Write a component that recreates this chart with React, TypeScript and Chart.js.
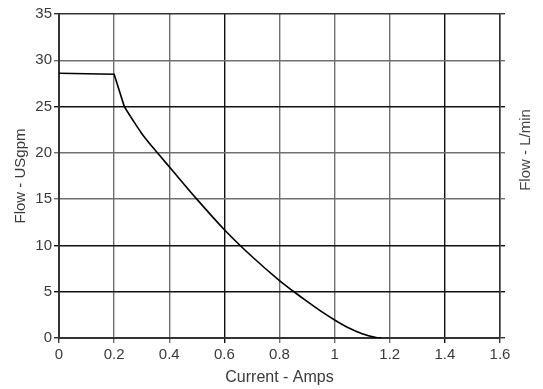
import React, { useEffect, useRef } from "react";
import { Chart, registerables } from "chart.js";

Chart.register(...registerables);

// Flat section and initial drop (straight segments)
const headAmps = [0, 0.2, 0.237, 0.26];
const headFlow = [28.6, 28.5, 25.0, 23.9];
// Smooth falling section
const curveAmps = [0.26, 0.3, 0.357, 0.4, 0.5, 0.6, 0.7, 0.8, 0.85, 0.9, 0.95, 1.0, 1.05, 1.1, 1.15, 1.17];
const curveFlow = [23.9, 22.1, 20.0, 18.5, 15.0, 11.7, 8.8, 6.2, 5.05, 3.95, 2.9, 1.95, 1.1, 0.45, 0.05, 0];

const xTitle = "Current - Amps";
const yTitle = "Flow - USgpm";
const y2Title = "Flow - L/min";

const xBlackTicks = [0.6, 1.4];
const yBlackTicks = [5, 10, 25];

const FONT = "'Liberation Sans', Arial, sans-serif";
const GRAY = "#707070";
const BLACK = "#111111";
const DARK = "#333333";

export default function App() {
  const ref = useRef<HTMLCanvasElement | null>(null);

  useEffect(() => {
    if (!ref.current) return;
    const rightTitle = {
      id: "rightTitle",
      afterDraw(chart: any) {
        const { ctx, chartArea } = chart;
        ctx.save();
        ctx.font = `15px ${FONT}`;
        ctx.fillStyle = "#444";
        ctx.textAlign = "center";
        ctx.textBaseline = "alphabetic";
        ctx.translate(530, (chartArea.top + chartArea.bottom) / 2 - 26);
        ctx.rotate(-Math.PI / 2);
        ctx.fillText(y2Title, 0, 0);
        ctx.restore();
      },
    };

    const xColor = (c: any) => {
      const v = Math.round(c.tick?.value * 10) / 10;
      if (v === 0 || v === 1.6) return DARK;
      return xBlackTicks.some((b) => Math.abs(b - v) < 1e-6) ? BLACK : GRAY;
    };
    const yColor = (c: any) => {
      const v = c.tick?.value;
      if (v === 0 || v === 35) return DARK;
      return yBlackTicks.includes(v) ? BLACK : GRAY;
    };

    const lineStyle = {
      borderColor: "#000",
      borderWidth: 1.6,
      pointRadius: 0,
      fill: false,
    };

    const chart = new Chart(ref.current, {
      type: "line",
      data: {
        datasets: [
          {
            ...lineStyle,
            data: headAmps.map((x, i) => ({ x, y: headFlow[i] })),
            tension: 0,
          },
          {
            ...lineStyle,
            data: curveAmps.map((x, i) => ({ x, y: curveFlow[i] })),
            cubicInterpolationMode: "monotone",
          },
        ],
      },
      options: {
        animation: false,
        responsive: false,
        layout: { padding: { top: 14, left: 0, right: 0, bottom: 0 } },
        plugins: { legend: { display: false }, tooltip: { enabled: false } },
        scales: {
          x: {
            type: "linear",
            min: 0,
            max: 1.6,
            ticks: {
              stepSize: 0.2,
              color: "#3a3a3a",
              font: { family: FONT, size: 15 },
              padding: 3,
              maxRotation: 0,
              callback: (v: any) => String(Math.round(Number(v) * 10) / 10),
            },
            grid: { color: xColor, lineWidth: 1.4, tickLength: 5 },
            border: { color: DARK, width: 2 },
            title: {
              display: true,
              text: xTitle,
              color: "#3a3a3a",
              font: { family: FONT, size: 16 },
              padding: { top: 0, bottom: 2 },
            },
            afterFit: (s: any) => {
              s.height = 51;
            },
          },
          y: {
            type: "linear",
            position: "left",
            min: 0,
            max: 35,
            ticks: {
              stepSize: 5,
              color: "#3a3a3a",
              font: { family: FONT, size: 15 },
              padding: 2,
            },
            grid: { color: yColor, lineWidth: 1.4, tickLength: 5 },
            border: { color: DARK, width: 2 },
            title: {
              display: true,
              text: yTitle,
              color: "#3a3a3a",
              font: { family: FONT, size: 15 },
              padding: { top: 12, bottom: 0 },
            },
            afterFit: (s: any) => {
              s.width = 59;
            },
          },
          y2: {
            type: "linear",
            position: "right",
            min: 0,
            max: 35,
            ticks: { stepSize: 5, display: false },
            grid: { drawOnChartArea: false, color: yColor, lineWidth: 1.4, tickLength: 5 },
            border: { color: DARK, width: 1.5 },
            afterFit: (s: any) => {
              s.width = 43;
            },
          },
        },
      },
      plugins: [rightTitle],
    });
    return () => chart.destroy();
  }, []);

  return (
    <div style={{ position: "fixed", left: 0, top: 0, width: 543, height: 389, background: "#fff" }}>
      <canvas ref={ref} width={543} height={389} style={{ width: 543, height: 389, display: "block" }} />
    </div>
  );
}
